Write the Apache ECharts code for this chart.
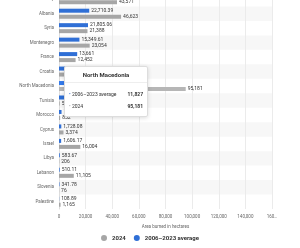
<!DOCTYPE html>
<html>
<head>
<meta charset="utf-8">
<script src="https://cdn.jsdelivr.net/npm/echarts@6/dist/echarts.min.js"></script>
<style>
    html, body { margin: 0; padding: 0; background: #fff; overflow: hidden; }
    /* 图表区向上溢出，顶部一行被裁掉一半 */
    #main { width: 300px; height: 256px; margin-top: -8px; }
</style>
</head>
<body>
<div id="main"></div>
<script>
//国家（顶部一行被裁掉一半）
var countries = ['Italy', 'Albania', 'Syria', 'Montenegro', 'France', 'Croatia', 'North Macedonia', 'Tunisia',
    'Morocco', 'Cyprus', 'Israel', 'Libya', 'Lebanon', 'Slovenia', 'Palestine'];
//2006-2023 平均值
var avgValues = [40000, 22710.39, 21805.06, 15349.61, 13661, 12500, 11827, 6000,
    1900, 1728.08, 1606.17, 583.67, 510.11, 341.78, 108.89];
//2024 年
var values2024 = [43571, 46623, 21388, 23054, 12452, 7000, 95181, 500,
    852, 3374, 16004, 206, 11105, 76, 1165];
var xTicks = [0, 20000, 40000, 60000, 80000, 100000, 120000, 140000, 160000];

var fontName = 'Roboto, "Open Sans", sans-serif';

function fmt(v) {
    return v.toLocaleString('en-US', { maximumFractionDigits: 2 });
}

var myChart = echarts.init(document.getElementById('main'), null, { renderer: 'canvas' });

var option = {
    animation: false,
    textStyle: { fontFamily: fontName },
    grid: { left: 59, right: 28, top: 0, bottom: 39 },
    tooltip: {
        trigger: 'axis',
        axisPointer: { type: 'none' },
        alwaysShowContent: true,
        transitionDuration: 0,
        position: function () {
            return [64, 74];
        },
        padding: 0,
        borderColor: '#ddd',
        borderWidth: 1,
        backgroundColor: '#fff',
        extraCssText: 'box-shadow:0 1px 4px rgba(0,0,0,0.15);border-radius:2px;width:82px;',
        formatter: function (params) {
            var inhtml = "<div style='font-family:Roboto,sans-serif;color:#333;'>";
            inhtml += "<div style='font-size:6px;font-weight:bold;text-align:center;line-height:15px;border-bottom:1px solid #eee;'>"
                + params[0].name + "</div>";
            inhtml += "<div style='padding:5px 4px 4px 4px;font-size:5px;'>";
            for (var i = 0; i < params.length; i++) {
                var item = params[i];
                inhtml += "<div style='display:flex;justify-content:space-between;line-height:12px;'>"
                    + "<span><span style='color:" + item.color + ";'>&#8226;</span>&nbsp;" + item.seriesName + "</span>"
                    + "<span style='font-weight:bold;'>" + Math.round(item.value).toLocaleString('en-US') + "</span></div>";
            }
            inhtml += "</div></div>";
            return inhtml;
        }
    },
    legend: {
        bottom: 2,
        left: 'center',
        data: ['2024', '2006–2023 average'],
        icon: 'circle',
        itemWidth: 6,
        itemHeight: 6,
        itemGap: 8,
        textStyle: { fontSize: 6, fontWeight: 'bold', color: '#333', fontFamily: fontName }
    },
    xAxis: {
        type: 'value',
        min: 0,
        max: 160000,
        interval: 20000,
        name: 'Area burned in hectares',
        nameLocation: 'middle',
        nameGap: 12,
        nameTextStyle: { fontSize: 4.5, color: '#666' },
        axisLine: { show: false },
        axisTick: { show: false },
        axisLabel: {
            fontSize: 4.5,
            color: '#666',
            margin: 5,
            formatter: function (v) {
                if (v == xTicks[xTicks.length - 1]) return '160…';
                return v.toLocaleString('en-US');
            }
        },
        splitLine: { lineStyle: { color: '#ebebeb', width: 1 } }
    },
    yAxis: {
        type: 'category',
        inverse: true,
        data: countries,
        axisLine: { show: true, lineStyle: { color: '#ddd' } },
        axisTick: { show: false },
        axisLabel: { fontSize: 4.5, color: '#666', margin: 5 },
        splitArea: { show: true, areaStyle: { color: ['rgba(255,255,255,0)', '#f7f7f7'] } }
    },
    series: [
        {
            name: '2006–2023 average',
            type: 'bar',
            data: avgValues,
            barWidth: 4,
            barGap: '50%',
            itemStyle: { color: '#2f6fd6' },
            label: {
                show: true,
                position: 'right',
                distance: 2,
                fontSize: 5,
                color: '#333',
                formatter: function (p) { return fmt(p.value); }
            }
        },
        {
            name: '2024',
            type: 'bar',
            data: values2024,
            barWidth: 4,
            itemStyle: { color: '#a6a6a6' },
            label: {
                show: true,
                position: 'right',
                distance: 2,
                fontSize: 5,
                color: '#333',
                formatter: function (p) { return fmt(p.value); }
            }
        }
    ]
};

myChart.setOption(option);

myChart.dispatchAction({ type: 'showTip', seriesIndex: 0, dataIndex: 6 });
</script>
</body>
</html>
